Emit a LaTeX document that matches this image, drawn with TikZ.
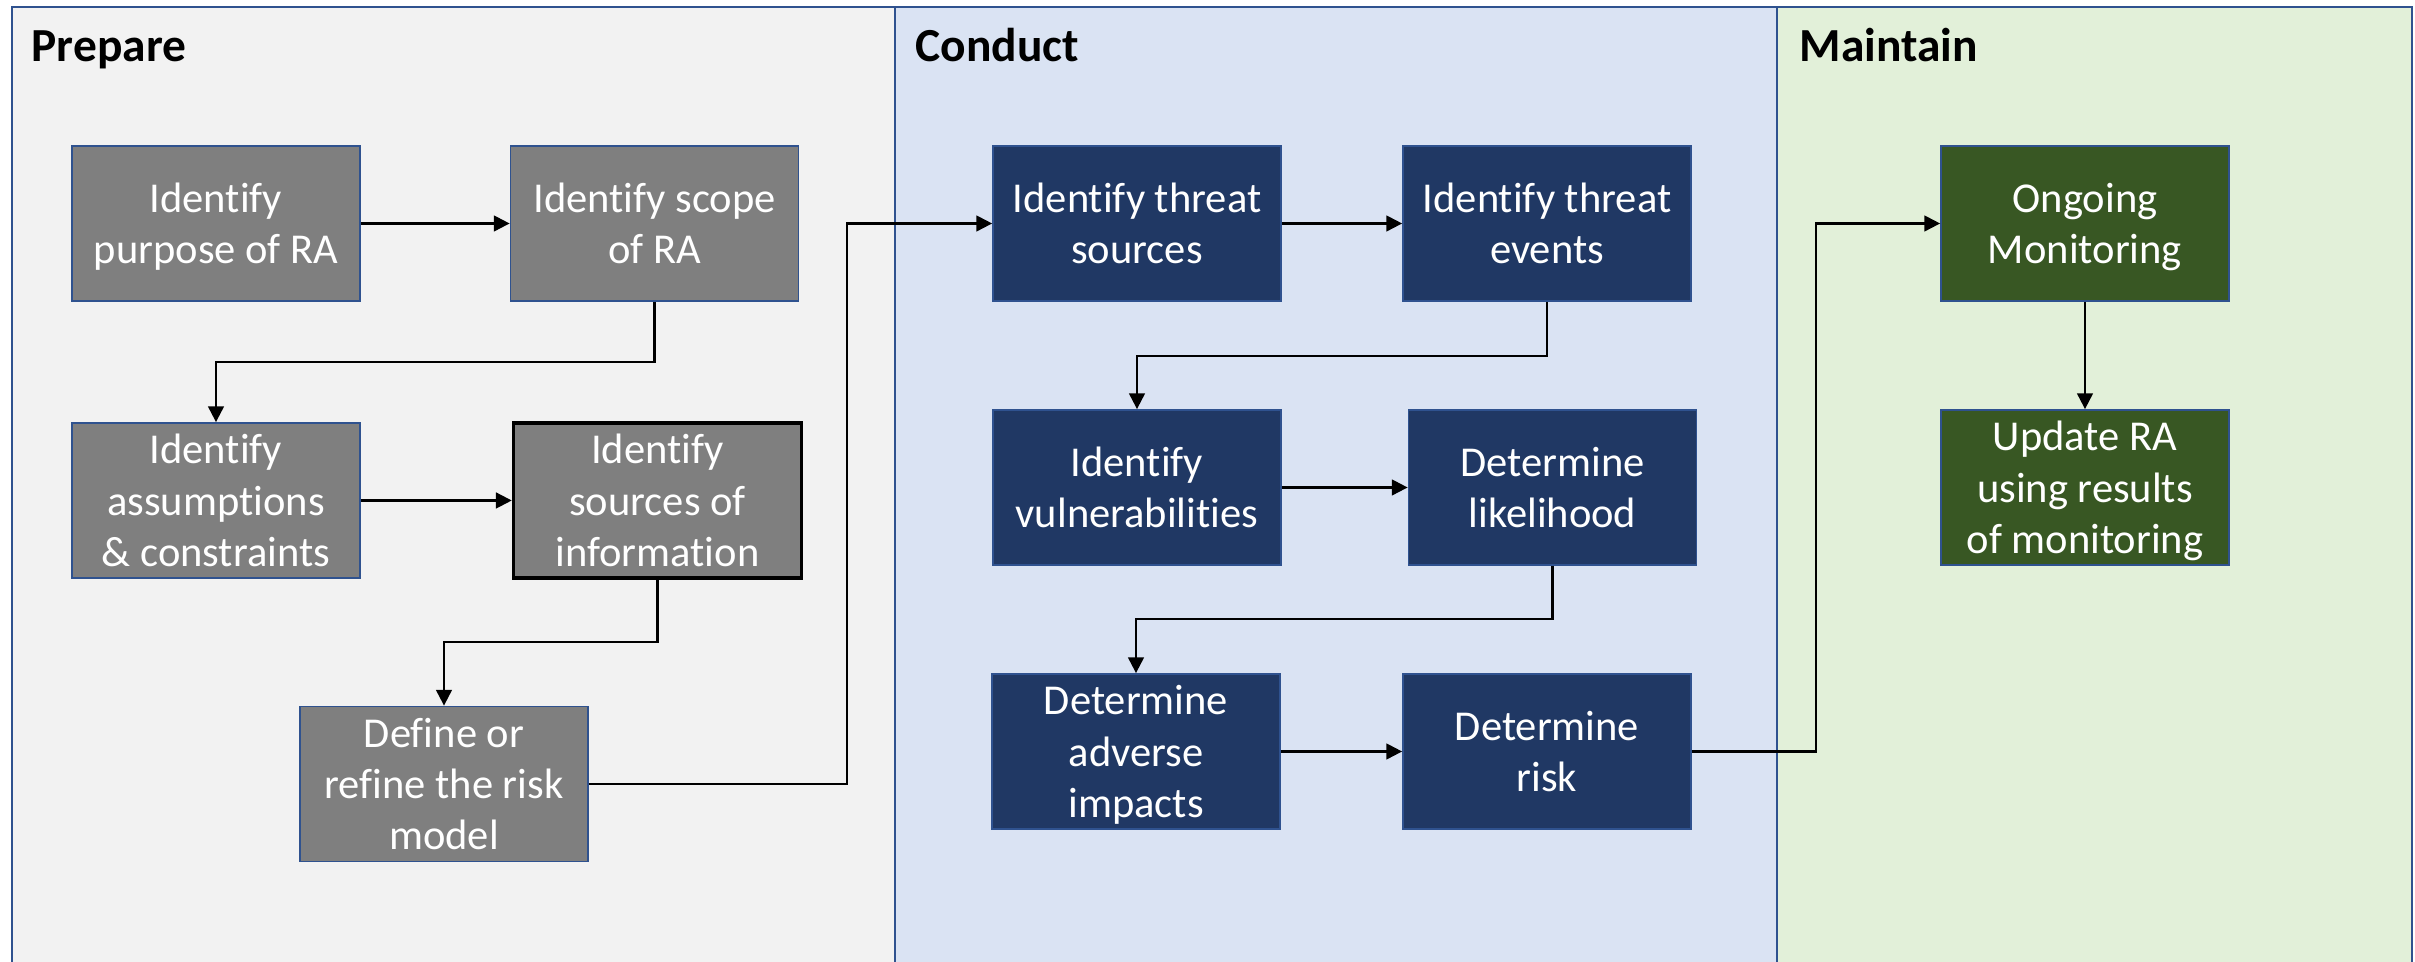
\documentclass[tikz,border=0pt]{standalone}
\usepackage{fontspec}
\setmainfont{Carlito}[Ligatures=NoCommon]
\usepackage{xcolor}
\usepackage{tikz}
\usetikzlibrary{calc,arrows.meta}
\definecolor{edgeblue}{HTML}{2F528F}
\definecolor{prepbg}{HTML}{F2F2F2}
\definecolor{condbg}{HTML}{DAE3F3}
\definecolor{maintbg}{HTML}{E2F0D9}
\definecolor{prepbox}{HTML}{7F7F7F}
\definecolor{condbox}{HTML}{203864}
\definecolor{maintbox}{HTML}{385723}
\tikzset{phase/.style={draw=edgeblue,line width=0.6pt},
  title/.style={anchor=base west,inner sep=0pt,font=\fontsize{13.5}{16}\selectfont\bfseries},
  stepbox/.style={draw=edgeblue,line width=0.5pt,text=white,align=center,minimum width=2.88cm,minimum height=1.55cm,inner sep=0pt,text depth=0pt,font=\fontsize{12.1}{14.6}\selectfont},
  flow/.style={line width=0.6pt,-{Triangle[length=4.5pt,width=4.5pt]}}}
\begin{document}
\begin{tikzpicture}
\useasboundingbox (0,0) rectangle (24.15,9.62);
\clip (0,0) rectangle (24.15,9.62);
\fill[white] (0,0) rectangle (24.15,9.62);
\draw[phase,fill=prepbg] (0.12,-0.3) -- (0.12,9.55) -- (8.95,9.55) -- (8.95,-0.3);
\draw[phase,fill=condbg] (8.95,-0.3) -- (8.95,9.55) -- (17.77,9.55) -- (17.77,-0.3);
\draw[phase,fill=maintbg] (17.77,-0.3) -- (17.77,9.55) -- (24.12,9.55) -- (24.12,-0.3);
\node[title] (tprep) at (0.31,9.0) {Prepare}; \node[title] (tcond) at (9.15,9.0) {Conduct}; \node[title] (tmaint) at (17.99,9.0) {Maintain};
\node[stepbox,fill=prepbox] (p1) at (2.16,7.385) {Identify\\purpose of RA};
\node[stepbox,fill=prepbox] (p2) at (6.545,7.385) {Identify scope\\of RA};
\node[stepbox,fill=prepbox] (p3) at (2.16,4.615) {Identify\\assumptions\\\& constraints};
\node[stepbox,fill=prepbox,draw=black,line width=1pt] (p4) at (6.575,4.615) {Identify\\sources of\\information};
\node[stepbox,fill=prepbox] (p5) at (4.44,1.78) {Define or\\refine the risk\\model};
\node[stepbox,fill=condbox] (c1) at (11.37,7.385) {Identify threat\\sources};
\node[stepbox,fill=condbox] (c2) at (15.47,7.385) {Identify threat\\events};
\node[stepbox,fill=condbox] (c3) at (11.37,4.745) {Identify\\vulnerabilities};
\node[stepbox,fill=condbox] (c4) at (15.525,4.745) {Determine\\likelihood};
\node[stepbox,fill=condbox] (c5) at (11.36,2.105) {Determine\\adverse\\impacts};
\node[stepbox,fill=condbox] (c6) at (15.47,2.105) {Determine\\risk};
\node[stepbox,fill=maintbox] (m1) at (20.85,7.385) {Ongoing\\Monitoring};
\node[stepbox,fill=maintbox] (m2) at (20.85,4.745) {Update RA\\using results\\of monitoring};
\coordinate (k1) at (0,6.00); \coordinate (k2) at (0,3.20); \coordinate (k3) at (8.47,0);
\coordinate (k4) at (0,6.06); \coordinate (k5) at (0,3.43); \coordinate (k6) at (18.16,0);
\draw[flow] (p1) -- (p2);
\draw[flow] (p2.south) -- (p2.south |- k1) -| (p3.north);
\draw[flow] (p3) -- (p4);
\draw[flow] (p4.south) -- (p4.south |- k2) -| (p5.north);
\draw[flow] (p5.east) -- (p5.east -| k3) |- (c1.west);
\draw[flow] (c1) -- (c2);
\draw[flow] (c2.south) -- (c2.south |- k4) -| (c3.north);
\draw[flow] (c3.east) -- (c3.east -| c4.west);
\draw[flow] (c4.south) -- (c4.south |- k5) -| (c5.north);
\draw[flow] (c5) -- (c6);
\draw[flow] (c6.east) -- (c6.east -| k6) |- (m1.west);
\draw[flow] (m1) -- (m2);
\end{tikzpicture}
\end{document}
